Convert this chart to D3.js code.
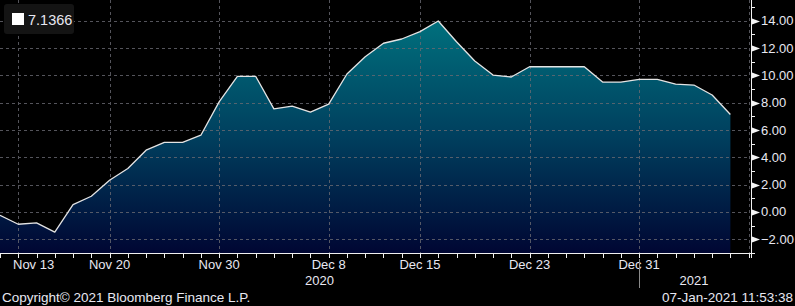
<!DOCTYPE html>
<html>
<head>
<meta charset="utf-8">
<script src="https://cdn.jsdelivr.net/npm/d3@7"></script>
<style>
  html, body { margin: 0; padding: 0; background: #000; }
  svg { display: block; }
  text { font-family: "Liberation Sans", Arial, sans-serif; fill: #e8e8f2; }
</style>
</head>
<body>
<svg id="chart" width="795" height="306"></svg>
<script>
// trading days shown on the chart
var dates = [
  '2020-11-12', '2020-11-13', '2020-11-16', '2020-11-17', '2020-11-18', '2020-11-19', '2020-11-20',
  '2020-11-23', '2020-11-24', '2020-11-25', '2020-11-26', '2020-11-27', '2020-11-30',
  '2020-12-01', '2020-12-02', '2020-12-03', '2020-12-04', '2020-12-07', '2020-12-08',
  '2020-12-09', '2020-12-10', '2020-12-11', '2020-12-14', '2020-12-15', '2020-12-16',
  '2020-12-17', '2020-12-18', '2020-12-21', '2020-12-22', '2020-12-23', '2020-12-24',
  '2020-12-25', '2020-12-28', '2020-12-29', '2020-12-30', '2020-12-31',
  '2021-01-01', '2021-01-04', '2021-01-05', '2021-01-06', '2021-01-07'
]

var values = [
  -0.24, -0.90, -0.80, -1.47, 0.54, 1.15, 2.32, 3.18, 4.52, 5.09, 5.09, 5.62, 8.06,
  9.93, 9.93, 7.55, 7.75, 7.31, 7.90, 10.10, 11.36, 12.35, 12.66, 13.20, 13.98,
  12.46, 11.05, 10.02, 9.88, 10.63, 10.63, 10.63, 10.63, 9.51, 9.51, 9.70,
  9.70, 9.36, 9.29, 8.56, 7.1366
]

var labelDates = ['2020-11-13', '2020-11-20', '2020-11-30', '2020-12-08', '2020-12-15', '2020-12-23', '2020-12-31']
var labelText = ['Nov 13', 'Nov 20', 'Nov 30', 'Dec 8', 'Dec 15', 'Dec 23', 'Dec 31']
var yTicks = [-2, 0, 2, 4, 6, 8, 10, 12, 14]
var yMinor = [-3, -1, 1, 3, 5, 7, 9, 11, 13, 15]
var years = ['2020', '2021']
var lastValue = '7.1366'

var svg = d3.select('#chart')
var W = 795, H = 306
var plotRight = 749, plotBottom = 253, axisX = 751

var step = 18.26
var x = d3.scalePoint().domain(dates).range([0, step * (dates.length - 1)])
var y = d3.scaleLinear().domain([-2, 14]).range([239.3, 20.7])

var defs = svg.append('defs')
var grad = defs.append('linearGradient')
  .attr('id', 'fill')
  .attr('gradientUnits', 'userSpaceOnUse')
  .attr('x1', 0).attr('x2', 0)
  .attr('y1', y(14)).attr('y2', plotBottom)
grad.append('stop').attr('offset', 0).attr('stop-color', '#00707d')
grad.append('stop').attr('offset', 0.5).attr('stop-color', '#003f5e')
grad.append('stop').attr('offset', 1).attr('stop-color', '#000633')

svg.append('rect').attr('width', W).attr('height', H).attr('fill', '#000')

var pts = dates.map(function (d, i) { return { d: d, v: values[i] } })

// area
svg.append('path')
  .datum(pts)
  .attr('fill', 'url(#fill)')
  .attr('d', d3.area()
    .x(function (p) { return x(p.d) })
    .y0(plotBottom)
    .y1(function (p) { return y(p.v) }))

// grid
var grid = svg.append('g')
  .attr('stroke', '#6a6a72')
  .attr('stroke-width', 1)
  .attr('stroke-dasharray', '3,3')
  .attr('opacity', 0.8)

grid.selectAll('line.h').data(yTicks).enter().append('line')
  .attr('x1', 0).attr('x2', plotRight)
  .attr('y1', function (d) { return Math.round(y(d)) + 0.5 })
  .attr('y2', function (d) { return Math.round(y(d)) + 0.5 })

grid.selectAll('line.v').data(labelDates).enter().append('line')
  .attr('x1', function (d) { return Math.round(x(d)) + 0.5 })
  .attr('x2', function (d) { return Math.round(x(d)) + 0.5 })
  .attr('y1', 0).attr('y2', plotBottom)

grid.append('line')
  .attr('x1', plotRight + 0.5).attr('x2', plotRight + 0.5)
  .attr('y1', 0).attr('y2', plotBottom)

// line
svg.append('path')
  .datum(pts)
  .attr('fill', 'none')
  .attr('stroke', '#e4e4e4')
  .attr('stroke-width', 1.3)
  .attr('stroke-linejoin', 'round')
  .attr('d', d3.line()
    .x(function (p) { return x(p.d) })
    .y(function (p) { return y(p.v) }))

// bottom axis
var axisG = svg.append('g').attr('stroke', '#f0f0f0').attr('stroke-width', 1)
axisG.append('line')
  .attr('x1', 0).attr('x2', axisX)
  .attr('y1', plotBottom + 0.5).attr('y2', plotBottom + 0.5)

var dayTicks = d3.range(dates.length + 1)
axisG.selectAll('line.tk').data(dayTicks).enter().append('line')
  .attr('x1', function (i) { return Math.round(i * step) + 0.5 })
  .attr('x2', function (i) { return Math.round(i * step) + 0.5 })
  .attr('y1', plotBottom).attr('y2', plotBottom + 5)

// right axis
axisG.append('line')
  .attr('x1', axisX + 0.5).attr('x2', axisX + 0.5)
  .attr('y1', 0).attr('y2', plotBottom + 5)

axisG.selectAll('line.mn').data(yMinor).enter().append('line')
  .attr('x1', axisX).attr('x2', axisX + 4)
  .attr('y1', function (d) { return Math.round(y(d)) + 0.5 })
  .attr('y2', function (d) { return Math.round(y(d)) + 0.5 })

svg.selectAll('path.arrow').data(yTicks).enter().append('path')
  .attr('fill', '#f4f4f4')
  .attr('d', function (d) {
    var yy = Math.round(y(d)) + 0.5
    return 'M' + (axisX + 1) + ',' + (yy - 3) + 'L' + (axisX + 9) + ',' + yy + 'L' + (axisX + 1) + ',' + (yy + 3) + 'Z'
  })

svg.selectAll('text.yl').data(yTicks).enter().append('text')
  .attr('x', 761)
  .attr('y', function (d) { return y(d) + 4.5 })
  .attr('font-size', 13)
  .text(function (d) { return d3.format('.2f')(d) })

// date labels
svg.selectAll('text.xl').data(labelDates).enter().append('text')
  .attr('font-size', 13)
  .attr('y', 269)
  .attr('text-anchor', 'start')
  .text(function (d, i) { return labelText[i] })
  .attr('x', function (d) {
    var w = this.getComputedTextLength()
    return Math.max(x(d) - w / 2, 13)
  })

// year labels and separator
var yearEnd = x('2020-12-31')
svg.append('text').attr('x', yearEnd / 2).attr('y', 285)
  .attr('font-size', 13).attr('text-anchor', 'middle').text(years[0])
svg.append('text').attr('x', (yearEnd + plotRight) / 2).attr('y', 285)
  .attr('font-size', 13).attr('text-anchor', 'middle').text(years[1])
svg.append('line')
  .attr('x1', Math.round(yearEnd) + 0.5).attr('x2', Math.round(yearEnd) + 0.5)
  .attr('y1', 259).attr('y2', 288)
  .attr('stroke', '#8a8a8a')

// legend
svg.append('rect')
  .attr('x', 4).attr('y', 4).attr('width', 70).attr('height', 30)
  .attr('rx', 3).attr('fill', '#141414')
svg.append('rect')
  .attr('x', 12).attr('y', 13).attr('width', 12).attr('height', 12)
  .attr('fill', '#fff')
svg.append('text').attr('x', 28).attr('y', 25).attr('font-size', 14.5).text(lastValue)

// footer
svg.append('text').attr('x', 2).attr('y', 302).attr('font-size', 13.5)
  .text('Copyright\u00a9 2021 Bloomberg Finance L.P.')
svg.append('text').attr('x', 793).attr('y', 302).attr('font-size', 13.5)
  .attr('text-anchor', 'end').text('07-Jan-2021 11:53:38')
</script>
</body>
</html>
